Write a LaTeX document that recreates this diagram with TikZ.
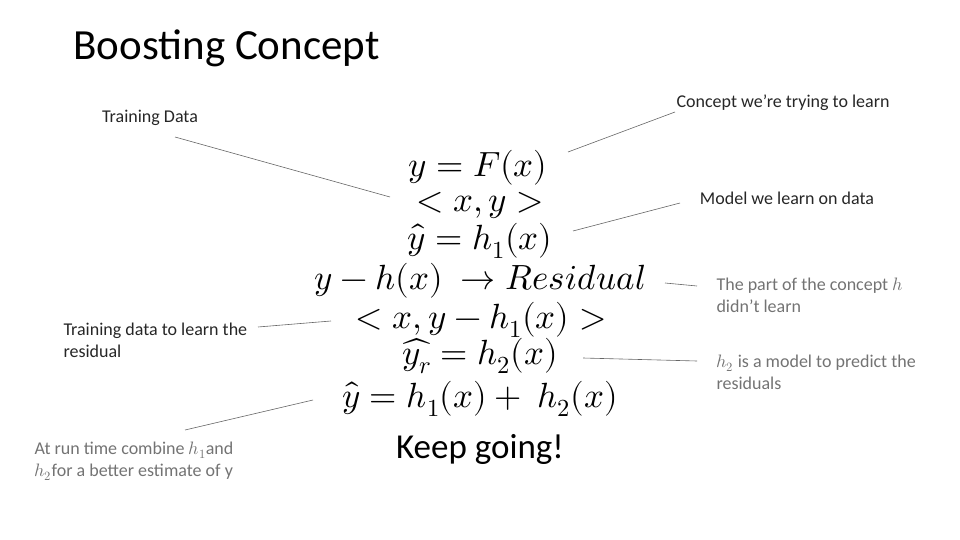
\documentclass[tikz,border=0pt]{standalone}
\usepackage{fontspec}
\setmainfont{Carlito}
\usepackage{unicode-math}
\setmathfont{Latin Modern Math}
\begin{document}
\begin{tikzpicture}[x=1pt,y=-1pt,
  eq/.style={font=\fontsize{35}{38}\selectfont},
  lbl/.style={font=\fontsize{18}{22}\selectfont,text=black!85},
  glbl/.style={font=\fontsize{18}{22}\selectfont,text=black!55,align=left},
  ln/.style={draw=black!60,line width=0.6pt}]
\useasboundingbox (0,0) rectangle (960,540);
\node[anchor=west,font=\fontsize{43}{46}\selectfont] (title) at (70,48) {Boosting Concept};
\node[eq] (e1) at (478,168) {$y=F(x)$};
\node[eq] (e2) at (480,205) {$<x,y>$};
\node[eq] (e3) at (480,241) {$\hat y=h_1(x)$};
\node[eq] (e4) at (480,281) {$y-h(x)\ \rightarrow Residual$};
\node[eq] (e5) at (481,320) {$<x,y-h_1(x)>$};
\node[eq] (e6) at (480,356) {$\widehat{y_r}=h_2(x)$};
\node[eq] (e7) at (480,399) {$\hat y=h_1(x)+\ h_2(x)$};
\node[font=\fontsize{35}{38}\selectfont] (kg) at (480,449) {Keep going!};
\node[lbl] (td) at (150,118) {Training Data};
\node[lbl] (ct) at (783,103) {Concept we're trying to learn};
\node[lbl] (md) at (787,198) {Model we learn on data};
\node[glbl,anchor=west] (pc) at (713,295) {The part of the concept $h$\\didn't learn};
\node[lbl,anchor=west,align=left] (tr) at (60,340) {Training data to learn the\\residual};
\node[glbl,anchor=west] (h2) at (713,372) {$h_2$ is a model to predict the\\residuals};
\node[glbl,anchor=west] (rt) at (31,461) {At run time combine $h_1$and\\$h_2$for a better estimate of y};
\coordinate (a1) at (175,137); \coordinate (a2) at (390,197);
\draw[ln] (a1) -- (a2);
\coordinate (b1) at (675,112); \coordinate (b2) at (568,152);
\draw[ln] (b1) -- (b2);
\coordinate (c1) at (680,203); \coordinate (c2) at (573,231);
\draw[ln] (c1) -- (c2);
\coordinate (d1) at (665,283); \coordinate (d2) at (697,286);
\draw[ln] (d1) -- (d2);
\coordinate (f1) at (258,327); \coordinate (f2) at (331,321);
\draw[ln] (f1) -- (f2);
\coordinate (g1) at (583,358); \coordinate (g2) at (697,361);
\draw[ln] (g1) -- (g2);
\coordinate (k1) at (185,430); \coordinate (k2) at (313,400);
\draw[ln] (k1) -- (k2);
\end{tikzpicture}
\end{document}
